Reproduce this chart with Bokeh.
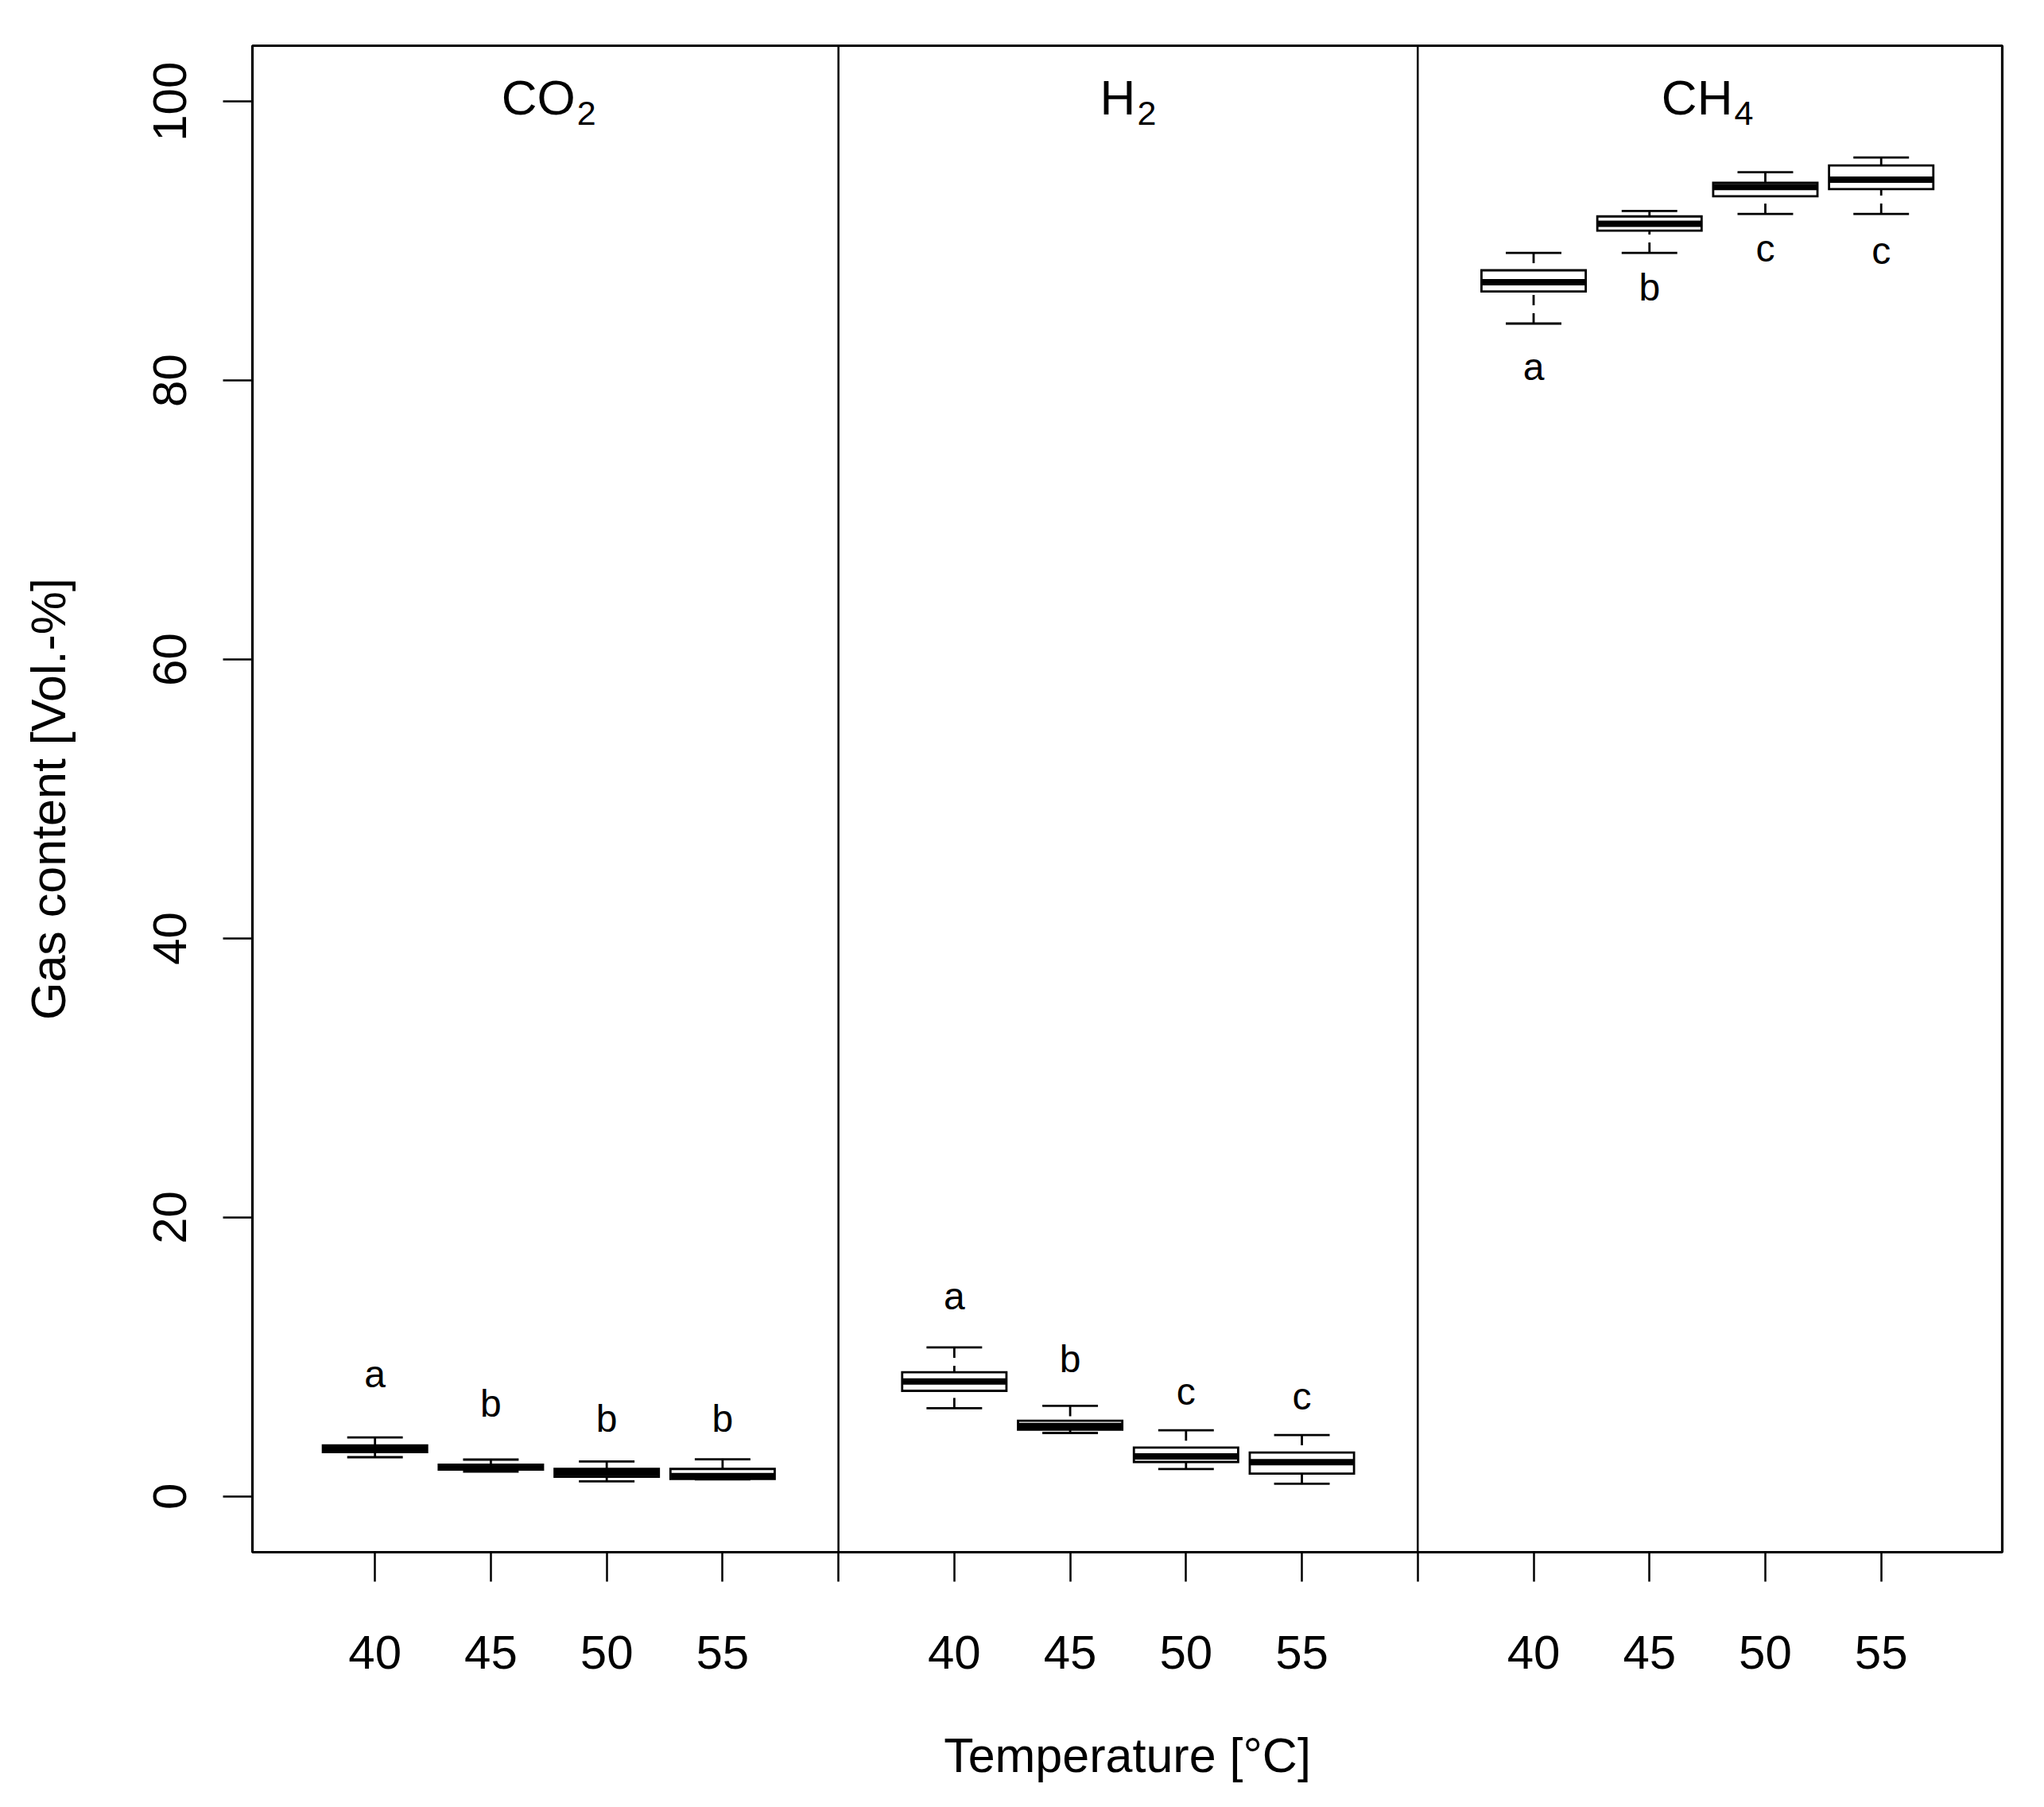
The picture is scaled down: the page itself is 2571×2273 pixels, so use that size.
from bokeh.plotting import figure
from bokeh.models import FixedTicker, Span, Range1d, ColumnDataSource
from bokeh.embed import file_html
from bokeh.resources import INLINE
from bokeh.core.properties import value

# ---------------- data ----------------
gas_main = ["CO", "H", "CH"]
gas_sub = ["2", "2", "4"]
temps = ["40", "45", "50", "55"]

co2_lower = [2.81, 1.78, 1.08, 1.22]
co2_q1 = [3.17, 1.92, 1.41, 1.25]
co2_median = [3.40, 2.08, 1.68, 1.45]
co2_q3 = [3.66, 2.28, 1.97, 1.97]
co2_upper = [4.23, 2.64, 2.50, 2.66]
co2_letters = ["a", "b", "b", "b"]
co2_letter_y = [8.78, 6.64, 5.60, 5.60]

h2_lower = [6.32, 4.55, 1.96, 0.91]
h2_q1 = [7.57, 4.78, 2.47, 1.63]
h2_median = [8.24, 5.05, 2.87, 2.46]
h2_q3 = [8.90, 5.42, 3.50, 3.14]
h2_upper = [10.68, 6.49, 4.74, 4.40]
h2_letters = ["a", "b", "c", "c"]
h2_letter_y = [14.34, 9.83, 7.51, 7.17]

ch4_lower = [84.08, 89.15, 91.94, 91.94]
ch4_q1 = [86.38, 90.74, 93.21, 93.72]
ch4_median = [87.05, 91.23, 93.87, 94.39]
ch4_q3 = [87.90, 91.76, 94.18, 95.41]
ch4_upper = [89.15, 92.15, 94.93, 95.98]
ch4_letters = ["a", "b", "c", "c"]
ch4_letter_y = [80.96, 86.70, 89.49, 89.30]

y_ticks = [0, 20, 40, 60, 80, 100]
title_level = 100.3

series = [
    (co2_lower, co2_q1, co2_median, co2_q3, co2_upper, co2_letters, co2_letter_y),
    (h2_lower, h2_q1, h2_median, h2_q3, h2_upper, h2_letters, h2_letter_y),
    (ch4_lower, ch4_q1, ch4_median, ch4_q3, ch4_upper, ch4_letters, ch4_letter_y),
]

# ---------------- figure ----------------
FONT = "Liberation Sans"
p = figure(frame_width=2201, frame_height=1895,
           x_range=Range1d(-0.058, 15.045), y_range=Range1d(-4, 104),
           output_backend="svg", toolbar_location=None,
           min_border_left=317, min_border_top=57, min_border_right=40,
           min_border_bottom=290)
p.background_fill_color = "white"
p.border_fill_color = "white"
p.outline_line_color = "black"
p.outline_line_width = 3.2
p.outline_line_alpha = 1.0
p.xgrid.visible = False
p.ygrid.visible = False

BOX_W = 0.9
CAP_W = 0.48
LW = 2.8
n_per = len(temps) + 1

all_ticks = []
labels = {}
for g, (lo, q1, md, q3, up, lets, ly) in enumerate(series):
    xs = [g * n_per + t + 1 for t in range(len(temps))]
    for t, xv in enumerate(xs):
        all_ticks.append(xv)
        labels[xv] = temps[t]
    if g < len(series) - 1:
        dv = g * n_per + n_per
        all_ticks.append(dv)
        labels[dv] = ""
        p.add_layout(Span(location=dv, dimension="height",
                          line_color="black", line_width=2.5))
    src = ColumnDataSource(dict(
        x=xs, lo=lo, q1=q1, md=md, q3=q3, up=up,
        left=[x - BOX_W / 2 for x in xs], right=[x + BOX_W / 2 for x in xs],
        cl=[x - CAP_W / 2 for x in xs], cr=[x + CAP_W / 2 for x in xs],
        let=lets, ly=ly))
    # whiskers (dashed), drawn from whisker end to box
    p.segment(x0="x", y0="up", x1="x", y1="q3", source=src,
              line_color="black", line_width=LW, line_dash="13 10")
    p.segment(x0="x", y0="lo", x1="x", y1="q1", source=src,
              line_color="black", line_width=LW, line_dash="13 10")
    # staples
    p.segment(x0="cl", y0="up", x1="cr", y1="up", source=src,
              line_color="black", line_width=LW)
    p.segment(x0="cl", y0="lo", x1="cr", y1="lo", source=src,
              line_color="black", line_width=LW)
    # box
    p.quad(left="left", right="right", top="q3", bottom="q1", source=src,
           fill_color="white", line_color="black", line_width=LW,
           line_join="miter")
    # median
    p.segment(x0="left", y0="md", x1="right", y1="md", source=src,
              line_color="black", line_width=8, line_cap="butt")
    # significance letters
    p.text(x="x", y="ly", text="let", source=src,
           text_font=value(FONT), text_font_size="48px",
           text_align="center", text_baseline="middle", text_color="black")

    # panel title with subscript
    cx = g * n_per + (len(temps) + 1) / 2
    main_fs, sub_fs = 62, 43
    adv = {"C": 0.722, "O": 0.778, "H": 0.722}
    wmain = sum(adv[c] for c in gas_main[g]) * main_fs
    wsub = 0.556 * sub_fs
    gap = 2
    total = wmain + gap + wsub
    main_right = -total / 2 + wmain
    p.text(x=[cx], y=[title_level], text=[gas_main[g]],
           text_font=value(FONT), text_font_size=f"{main_fs}px",
           text_align="right", text_baseline="middle", x_offset=main_right,
           text_color="black")
    p.text(x=[cx], y=[title_level - 1.12], text=[gas_sub[g]],
           text_font=value(FONT), text_font_size=f"{sub_fs}px",
           text_align="left", text_baseline="middle",
           x_offset=main_right + gap, text_color="black")

# ---------------- axes ----------------
xa = p.xaxis[0]
xa.ticker = FixedTicker(ticks=all_ticks)
xa.major_label_overrides = {k: v for k, v in labels.items()}
xa.axis_line_color = None
xa.major_tick_out = 37
xa.major_tick_in = 0
xa.minor_tick_line_color = None
xa.major_tick_line_width = 2.5
xa.major_tick_line_color = "black"
xa.major_label_text_font = FONT
xa.major_label_text_font_size = "60px"
xa.major_label_text_color = "black"
xa.major_label_standoff = 68
xa.axis_label = "Temperature [°C]"
xa.axis_label_text_font = FONT
xa.axis_label_text_font_size = "61px"
xa.axis_label_text_font_style = "normal"
xa.axis_label_text_color = "black"
xa.axis_label_standoff = 72

ya = p.yaxis[0]
ya.ticker = FixedTicker(ticks=y_ticks)
ya.axis_line_color = None
ya.major_tick_out = 37
ya.major_tick_in = 0
ya.minor_tick_line_color = None
ya.major_tick_line_width = 2.5
ya.major_tick_line_color = "black"
ya.major_label_orientation = "vertical"
ya.major_label_text_font = FONT
ya.major_label_text_font_size = "60px"
ya.major_label_text_color = "black"
ya.major_label_standoff = 46
ya.axis_label = "Gas content [Vol.-%]"
ya.axis_label_text_font = FONT
ya.axis_label_text_font_size = "61px"
ya.axis_label_text_font_style = "normal"
ya.axis_label_text_color = "black"
ya.axis_label_standoff = 96

open("out.html", "w").write(file_html(p, INLINE))
